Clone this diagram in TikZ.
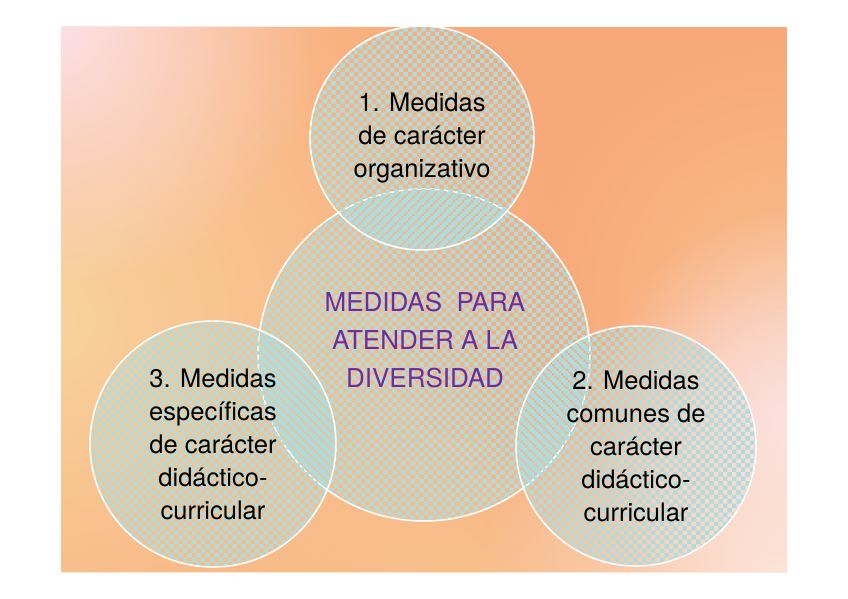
\documentclass[tikz,border=0pt]{standalone}
\usepackage{fontspec}
\setmainfont{TeX Gyre Heros}
\usepackage{tikz}
\usetikzlibrary{patterns,fadings}
\definecolor{Peach}{HTML}{F8A979}
\definecolor{Blush}{HTML}{FDE1E8}
\definecolor{Cream}{HTML}{FCE6DA}
\definecolor{Sand}{HTML}{F9D29C}
\definecolor{Rose}{HTML}{FCE3EC}
\definecolor{Aqua}{HTML}{AEDDE0}
\definecolor{Plum}{HTML}{6A2D9F}
\tikzfading[name=glow,inner color=transparent!0,outer color=transparent!100]
\pgfdeclarepatternformonly{checks}{\pgfpointorigin}{\pgfpoint{9.4pt}{9.4pt}}{\pgfpoint{9.4pt}{9.4pt}}{%
  \pgfpathrectangle{\pgfpointorigin}{\pgfpoint{4.7pt}{4.7pt}}%
  \pgfpathrectangle{\pgfpoint{4.7pt}{4.7pt}}{\pgfpoint{4.7pt}{4.7pt}}%
  \pgfusepath{fill}}

\begin{document}
\begin{tikzpicture}[x=1pt,y=-1pt,
  bubble/.style={circle,draw=white,line width=1.5pt,pattern=checks,pattern color=Aqua,
    align=center,inner sep=0pt,font=\fontsize{25.5}{33}\selectfont},
  headline/.style={align=center,text=Plum,font=\fontsize{26}{38}\selectfont}]
\useasboundingbox (0,0) rectangle (848,599);
\fill[Peach] (61,27) rectangle (787,572);
\begin{scope}
  \clip (61,27) rectangle (787,572);
  \fill[Sand,path fading=glow] (50,320) circle (520pt);
  \fill[Sand,path fading=glow,opacity=0.6] (470,610) circle (280pt);
  \fill[Sand,path fading=glow,opacity=0.5] (790,300) circle (260pt);
  \fill[Blush,path fading=glow] (55,20) circle (270pt);
  \fill[Rose,path fading=glow] (805,425) circle (220pt);
  \fill[Cream,path fading=glow] (780,585) circle (300pt);
\end{scope}
\node[bubble,minimum size=332pt] (hub) at (424,355) {};
\node[headline] (title) at (425,340) {MEDIDAS\ \ PARA\\ATENDER A LA\\DIVERSIDAD};
\node[bubble,minimum size=224pt] (org) at (422,138) {1. Medidas\\de carácter\\organizativo};
\node[bubble,minimum size=246pt] (spec) at (213,444) {3. Medidas\\específicas\\de carácter\\didáctico-\\curricular};
\node[bubble,minimum size=240pt] (common) at (636,446) {2. Medidas\\comunes de\\carácter\\didáctico-\\curricular};
\end{tikzpicture}
\end{document}
